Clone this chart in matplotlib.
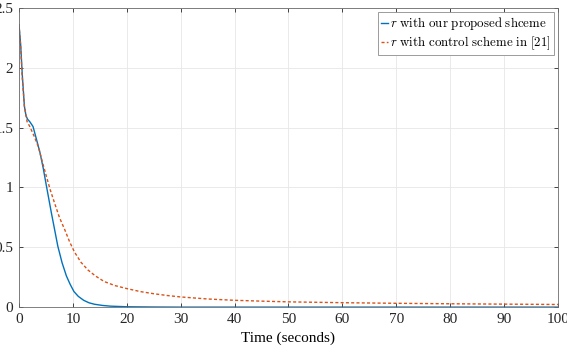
import matplotlib
matplotlib.use("Agg")
import matplotlib.pyplot as plt
from matplotlib.ticker import FuncFormatter

plt.rcParams["font.family"] = ["Liberation Serif", "DejaVu Serif"]
plt.rcParams["mathtext.fontset"] = "cm"

# r with our proposed scheme
prop_t = [0, 0.3, 0.6, 1.0, 1.3, 1.6, 2.0, 2.6, 3.2, 3.9, 4.5, 5.1, 6.0, 7.2,
          8.0, 8.8, 9.5, 10.2, 11, 12, 13, 14, 15.5, 17, 20, 25, 30, 100]
prop_r = [2.36, 2.2, 1.95, 1.68, 1.6, 1.57, 1.55, 1.51, 1.41, 1.29, 1.16, 1.01,
          0.79, 0.51, 0.37, 0.26, 0.19, 0.13, 0.09, 0.057, 0.036, 0.024, 0.014,
          0.008, 0.003, 0.001, 0.0, 0.0]

# r with control scheme in [21]
ref_t = [0, 0.3, 0.6, 1.0, 1.5, 2.0, 2.8, 3.6, 4.3, 5.1, 5.8, 6.6, 7.5, 8.5,
         9.4, 10.3, 11.5, 12.8, 14.2, 15.8, 17.8, 20, 22.5, 25, 27.5, 30, 35,
         40, 45, 50, 60, 70, 80, 90, 100]
ref_r = [2.36, 2.18, 1.92, 1.68, 1.55, 1.51, 1.43, 1.34, 1.22, 1.09, 0.98,
         0.87, 0.75, 0.646, 0.545, 0.46, 0.375, 0.31, 0.26, 0.214, 0.18, 0.155,
         0.13, 0.112, 0.097, 0.085, 0.068, 0.057, 0.05, 0.044, 0.037, 0.032,
         0.028, 0.025, 0.022]

x_ticks = list(range(0, 101, 10))
y_ticks = [0, 0.5, 1, 1.5, 2, 2.5]

fig = plt.figure(figsize=(5.67, 3.49), dpi=100)
ax = fig.add_axes([0.0335, 0.12, 0.9505, 0.857])

ax.plot(prop_t, prop_r, color="#0072BD", lw=1.0,
        label=r"$r\ \mathrm{with\ our\ proposed\ shceme}$")
ax.plot(ref_t, ref_r, color="#D95319", lw=1.0, ls=(0, (2.2, 1.6)),
        label=r"$r\ \mathrm{with\ control\ scheme\ in\ [21]}$")

ax.set_xlim(0, 100)
ax.set_ylim(0, 2.5)
ax.set_xticks(x_ticks)
ax.set_yticks(y_ticks)
ax.yaxis.set_major_formatter(FuncFormatter(lambda v, p: f"{v:g}"))
ax.grid(True, color="#e6e6e6", lw=0.6)
ax.set_axisbelow(True)
ax.tick_params(direction="in", length=3, width=0.6, colors="#262626",
               labelsize=11, pad=4, top=True, right=True)
for s in ax.spines.values():
    s.set_linewidth(0.6)
    s.set_color("#6b6b6b")

ax.set_xlabel("Time (seconds)", fontsize=11, labelpad=4)

leg = ax.legend(loc="upper right", fontsize=9.3, handlelength=0.5,
                handletextpad=0.2, borderpad=0.25, labelspacing=0.2,
                fancybox=False, framealpha=1, borderaxespad=0.3)
leg.get_frame().set_edgecolor("#8c8c8c")
leg.get_frame().set_linewidth(0.6)

fig.savefig("out.png", dpi=100)
